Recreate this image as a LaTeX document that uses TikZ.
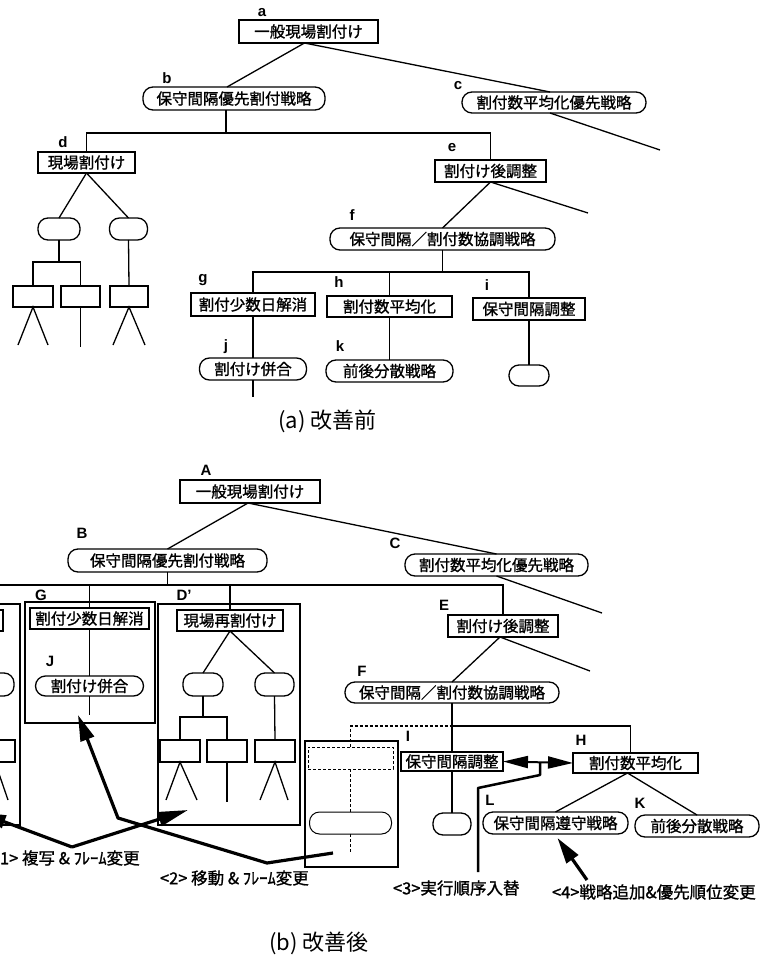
\documentclass[tikz,border=0pt]{standalone}
\usepackage{fontspec}
\setmainfont{Liberation Sans}
\newfontfamily\jp{Noto Sans CJK JP}[AutoFakeBold=1.2]
\usetikzlibrary{arrows.meta}

\newcommand\dsub[2]{%
  \node[frm,minimum width=142pt,minimum height=221pt] (#1f) at (229,714.5) {};
  \node[rbox,minimum width=106pt,minimum height=21pt] (#1) at (230,620.5) {#2};
  \node[obox,minimum width=40pt,minimum height=23pt] (#1o1) at (203,684.5) {};
  \node[obox,minimum width=39pt,minimum height=23pt] (#1o2) at (274.5,684.5) {};
  \node[rbox,minimum width=40pt,minimum height=22pt] (#1b1) at (180,751) {};
  \node[rbox,minimum width=40pt,minimum height=22pt] (#1b2) at (227,751) {};
  \node[rbox,minimum width=40pt,minimum height=22pt] (#1b3) at (275,751) {};
  \coordinate (#1j) at (203,717);
  \coordinate (#1l1) at (166,800);
  \coordinate (#1l2) at (197,800);
  \coordinate (#1l3) at (227,802);
  \coordinate (#1l4) at (260,800);
  \coordinate (#1l5) at (288,800);
  \draw[ln] (#1.south) -- (#1o1.north);
  \draw[ln] (#1.south) -- (#1o2.north);
  \draw[ln] (#1o1.south) -- (#1j);
  \draw[ln] (#1b1.north) |- (#1j) -| (#1b2.north);
  \draw[ln] (#1o2.south) -- (#1b3.north);
  \draw[ln] (#1l1) -- (#1b1.south) -- (#1l2);
  \draw[ln] (#1b2.south) -- (#1l3);
  \draw[ln] (#1l4) -- (#1b3.south) -- (#1l5);
}

\begin{document}
\begin{tikzpicture}[x=1pt,y=-1pt,
  every node/.style={inner sep=0pt,outer sep=0pt},
  ln/.style={line width=1.3pt},
  frm/.style={draw,line width=1.1pt},
  rbox/.style={draw,line width=1.3pt,rectangle,font=\jp\bfseries\fontsize{15.5}{16}\selectfont},
  obox/.style={rbox,rounded corners=10pt},
  lab/.style={font=\bfseries\fontsize{15}{16}\selectfont},
  note/.style={font=\jp\bfseries\fontsize{16.5}{17}\selectfont,anchor=west},
  captxt/.style={font=\jp\fontsize{22}{24}\selectfont},
  fat/.style={line width=3.2pt,line join=round},
]
\useasboundingbox (0,0) rectangle (760,957);
\fill[white] (0,0) rectangle (760,957);
\clip (0,0) rectangle (760,957);

% ================= (a) =================
\node[rbox,minimum width=139pt,minimum height=23pt] (a) at (308.5,31.5) {一般現場割付け};
\node[obox,minimum width=182pt,minimum height=23pt] (b) at (234,98.5) {保守間隔優先割付戦略};
\node[obox,minimum width=184pt,minimum height=21pt] (c) at (554,102.5) {割付数平均化優先戦略};
\node[rbox,minimum width=97pt,minimum height=21pt] (d) at (86.5,162.5) {現場割付け};
\node[rbox,minimum width=111pt,minimum height=22pt] (e) at (490.5,171) {割付け後調整};
\node[obox,minimum width=225pt,minimum height=22pt] (f) at (442.5,239) {保守間隔／割付数協調戦略};
\node[rbox,minimum width=124pt,minimum height=23pt] (g) at (253,304.5) {割付少数日解消};
\node[rbox,minimum width=125pt,minimum height=21pt] (h) at (389.5,306.5) {割付数平均化};
\node[rbox,minimum width=112pt,minimum height=22pt] (i) at (529,309) {保守間隔調整};
\node[obox,minimum width=107pt,minimum height=22pt] (j) at (253,369) {割付け併合};
\node[obox,minimum width=127pt,minimum height=22pt] (k) at (389.5,371) {前後分散戦略};
\node[obox,minimum width=40pt,minimum height=21pt] (io) at (529,375.5) {};
\node[obox,minimum width=42pt,minimum height=22pt] (do1) at (59,229) {};
\node[obox,minimum width=38pt,minimum height=22pt] (do2) at (128.5,229) {};
\node[rbox,minimum width=40pt,minimum height=21pt] (db1) at (33,296.5) {};
\node[rbox,minimum width=39pt,minimum height=21pt] (db2) at (80.5,296.5) {};
\node[rbox,minimum width=38pt,minimum height=21pt] (db3) at (129,296.5) {};

\node[lab] (la) at (262,12.5) {a};
\node[lab] (lb) at (167,78) {b};
\node[lab] (lc) at (458,86) {c};
\node[lab] (ld) at (63,142) {d};
\node[lab] (le) at (452,148) {e};
\node[lab] (lf) at (352,215) {f};
\node[lab] (lg) at (203,280) {g};
\node[lab] (lh) at (339,282) {h};
\node[lab] (li) at (487,285) {i};
\node[lab] (lj) at (226,347) {j};
\node[lab] (lk) at (340,346) {k};

\draw[ln] ([xshift=-4pt]a.south) -- ([xshift=-7pt]b.north);
\draw[ln] ([xshift=-4pt]a.south) -- ([xshift=-4pt]c.north);
\coordinate (cOut) at (660,150);
\draw[ln] ([xshift=-4pt]c.south) -- (cOut);
\coordinate (bBar) at (226,133);
\draw[ln] ([xshift=-8pt]b.south) -- (bBar);
\draw[ln] (d.north) |- (bBar) -| (e.north);
\draw[ln] (d.south) -- (do1.north);
\draw[ln] (d.south) -- (do2.north);
\coordinate (dJ) at (59,262);
\draw[ln] (do1.south) -- (dJ);
\draw[ln] (db1.north) |- (dJ) -| (db2.north);
\draw[ln] (do2.south) -- (db3.north);
\coordinate (l1) at (18,345);
\coordinate (l2) at (48,345);
\coordinate (l3) at (80.5,347);
\coordinate (l4) at (113,345);
\coordinate (l5) at (145,345);
\draw[ln] (l1) -- (db1.south) -- (l2);
\draw[ln] (db2.south) -- (l3);
\draw[ln] (l4) -- (db3.south) -- (l5);
\coordinate (eOut) at (588,213);
\draw[ln] (f.north) -- (e.south) -- (eOut);
\coordinate (fBar) at (442.5,272);
\draw[ln] (f.south) -- (fBar);
\draw[ln] (g.north) |- (fBar) -| (i.north);
\draw[ln] (h.north |- fBar) -- (h.north);
\draw[ln] (g.south) -- (j.north);
\coordinate (jOut) at (253,397);
\draw[ln] (j.south) -- (jOut);
\draw[ln] (h.south) -- (k.north);
\draw[ln] (i.south) -- (io.north);

\node[captxt] (capa) at (327.5,421) {(a) 改善前};

% ================= (b) =================
\node[rbox,minimum width=140pt,minimum height=23pt] (A) at (250,491.5) {一般現場割付け};
\node[obox,minimum width=199pt,minimum height=23pt] (B) at (167.5,560.5) {保守間隔優先割付戦略};
\node[obox,minimum width=183pt,minimum height=22pt] (C) at (496.5,565) {割付数平均化優先戦略};
\node[rbox,minimum width=110pt,minimum height=22pt] (E) at (503,626) {割付け後調整};
\node[obox,minimum width=214pt,minimum height=21pt] (F) at (452,692.5) {保守間隔／割付数協調戦略};
\node[frm,minimum width=130pt,minimum height=121pt] (Gf) at (90,662.5) {};
\node[rbox,minimum width=119pt,minimum height=21pt] (G) at (89.5,618.5) {割付少数日解消};
\node[obox,minimum width=108pt,minimum height=20pt] (J) at (89.5,686) {割付け併合};

\dsub{Dp}{現場再割付け}
\begin{scope}[xshift=-280pt]
  \dsub{Lc}{}
\end{scope}

\node[rbox,minimum width=102pt,minimum height=19pt] (I) at (452,761.5) {保守間隔調整};
\node[obox,minimum width=38pt,minimum height=22pt] (Io) at (452,824) {};
\node[rbox,minimum width=125pt,minimum height=20pt] (H) at (635.5,763) {割付数平均化};
\node[obox,minimum width=145pt,minimum height=22pt] (L) at (555.5,823) {保守間隔遵守戦略};
\node[obox,minimum width=124pt,minimum height=22pt] (K) at (697,826) {前後分散戦略};

\node[frm,minimum width=93pt,minimum height=126pt] (Mf) at (351.5,804) {};
\node[draw,densely dashed,line width=1pt,minimum width=85pt,minimum height=22pt] (Mb) at (350.5,758) {};
\node[draw,line width=1pt,rounded corners=10pt,minimum width=82pt,minimum height=22pt] (Mo) at (350.5,823) {};

\node[lab] (lA) at (206,470) {A};
\node[lab] (lB) at (82,533) {B};
\node[lab] (lC) at (395,543) {C};
\node[lab] (lG) at (41,595) {G};
\node[lab] (lD) at (184,595) {D'};
\node[lab] (lE) at (444,605) {E};
\node[lab] (lF) at (362,671) {F};
\node[lab] (lJ) at (50,661) {J};
\node[lab] (lI) at (408,736) {I};
\node[lab] (lH) at (581,740) {H};
\node[lab] (lL) at (490,800) {L};
\node[lab] (lK) at (640,803) {K};

\draw[ln] ([xshift=-2pt]A.south) -- (B.north);
\draw[ln] ([xshift=-2pt]A.south) -- (C.north);
\coordinate (COut) at (602,613);
\draw[ln] (C.south) -- (COut);
\coordinate (Bl) at (0,585);
\draw[ln] (B.south) -- (B.south |- Bl);
\draw[ln] (Bl) -| (E.north);
\draw[ln] (G.north |- Bl) -- (G.north);
\draw[ln] (G.south) -- (J.north);
\coordinate (JOut) at (89.5,715);
\draw[ln] (J.south) -- (JOut);
\draw[ln] (Dp.north |- Bl) -- (Dp.north);
\coordinate (EOut) at (590,671);
\draw[ln] (F.north) -- ([xshift=-3pt]E.south) -- (EOut);

\coordinate (Fb) at (452,726);
\draw[ln] (F.south) -- (I.north);
\draw[ln] (I.south) -- (Io.north);
\draw[ln] (Fb) -| ([xshift=-5pt]H.north);
\draw[ln] ([xshift=-8pt]H.south) -- (L.north);
\draw[ln] ([xshift=-8pt]H.south) -- (K.north);

\draw[ln,densely dashed] (Mb.north) |- (Fb);
\draw[ln,densely dashed] (Mb.south) -- (Mo.north);
\coordinate (MoOut) at (350.5,852);
\draw[ln,densely dashed] (Mo.south) -- (MoOut);

% <3> double arrow and hook
\draw[line width=2pt,{Triangle[length=25pt,width=12pt]}-{Triangle[length=25pt,width=12pt]}] (I.east) -- (H.west);
\coordinate (h3a) at (540,762);
\coordinate (h3b) at (540,775);
\coordinate (h3c) at (478,788);
\coordinate (h3d) at (478,872);
\draw[line width=2.5pt,line join=round] (h3a) -- (h3b) -- (h3c) -- (h3d);
\node[note] (n3) at (393,888) {<3>実行順序入替};

% <4>
\coordinate (p4) at (587,880);
\draw[fat,-{Triangle[length=26pt,width=14pt]}] (p4) -- ([xshift=2pt,yshift=-4pt]L.south);
\node[note] (n4) at (552,892) {<4>戦略追加\&優先順位変更};

% <1>
\coordinate (p1) at (72,847);
\coordinate (p1l) at (-22,812);
\coordinate (p1r) at (188,810);
\draw[fat,-{Triangle[length=28pt,width=13pt]}] (p1) -- (p1l);
\draw[fat,-{Triangle[length=30pt,width=14pt]}] (p1) -- (p1r);
\node[note] (n1) at (0,858) {1> 複写 \& ﾌﾚｰﾑ変更};

% <2>
\coordinate (p2a) at (333,853);
\coordinate (p2b) at (267,863);
\coordinate (p2c) at (118,818);
\coordinate (p2t) at (78,715);
\draw[fat,-{Triangle[length=26pt,width=14pt]}] (p2a) -- (p2b) -- (p2c) -- (p2t);
\node[note] (n2) at (160,878) {<2> 移動 \& ﾌﾚｰﾑ変更};

\node[captxt] (capb) at (319,943) {(b) 改善後};
\end{tikzpicture}
\end{document}
